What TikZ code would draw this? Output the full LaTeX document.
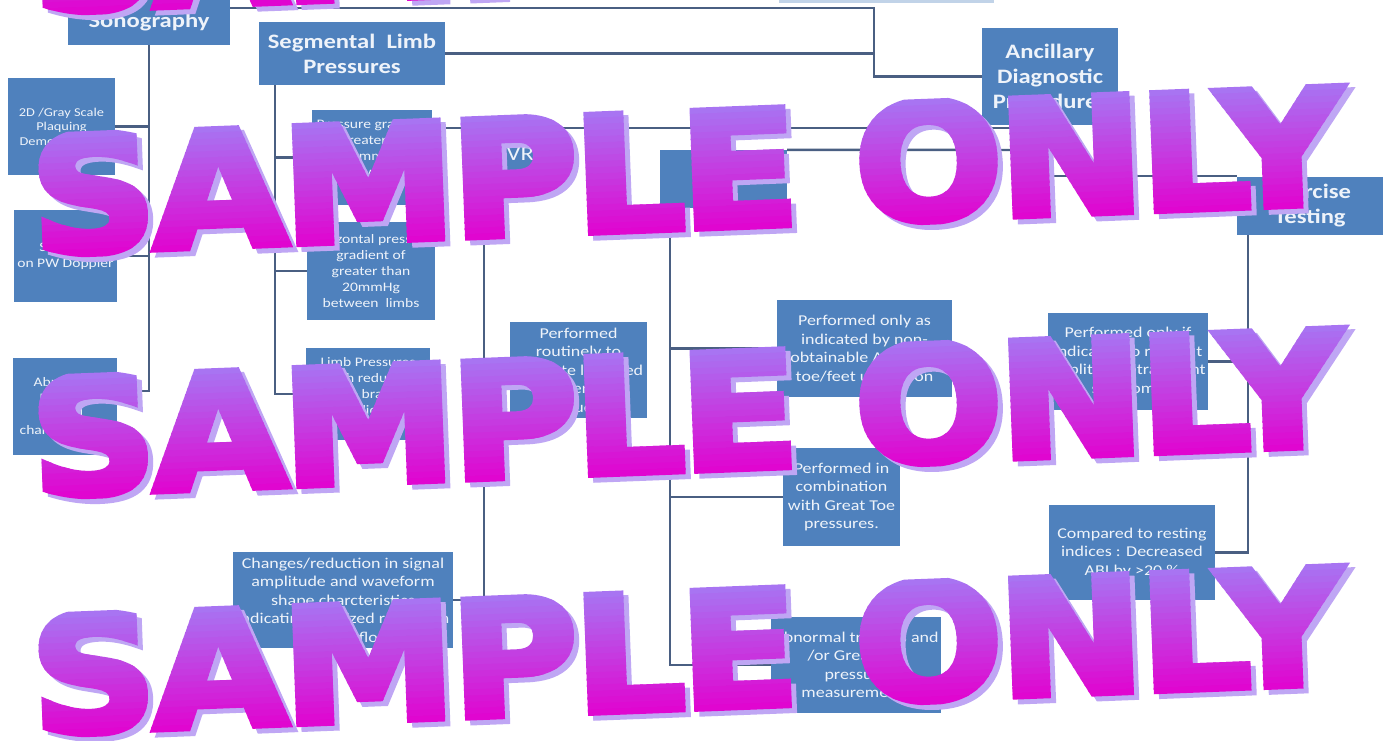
\documentclass[tikz,border=0pt]{standalone}
\usepackage{fontspec}
\usepackage{graphicx}
\setmainfont[FakeStretch=1.2]{Carlito}
\newfontfamily\wmfont[FakeBold=4, LetterSpace=-3]{DejaVu Sans Bold}

\definecolor{boxblue}{HTML}{4F81BD}
\definecolor{boxtext}{HTML}{EEF3FA}
\definecolor{linkc}{HTML}{4A5F82}
\definecolor{wmtop}{HTML}{A874F2}
\definecolor{wmbot}{HTML}{E006D0}
\definecolor{wmshade}{HTML}{BFA6F4}

\tikzset{
	box/.style={fill=boxblue, text=boxtext, inner sep=2pt, align=center},
	head/.style={box, font=\bfseries\fontsize{20.5}{25}\selectfont},
	midtext/.style={box, font=\fontsize{15}{18.5}\selectfont},
	smalltext/.style={box, font=\fontsize{13}{16}\selectfont},
	tinytext/.style={box, font=\fontsize{12}{14.5}\selectfont},
	link/.style={draw=linkc, line width=2.4pt},
	wm/.style={inner sep=0pt, transform shape},
}

\newcommand{\wmword}{\resizebox{1315pt}{120pt}{\wmfont SAMPLE ONLY}}
\newcommand{\wmrow}[1]{%
	\begin{scope}[shift={(687.5,#1)}, rotate=2.2]
		\node[wm, text=wmshade] at (5,5) {\wmword};
		\foreach \k in {0,...,19}{
			\pgfmathtruncatemacro{\p}{100-\k*100/19}
			\begin{scope}
				\clip (-720,-62+\k*6.2) rectangle (720,-60+\k*6.2+6.2);
				\node[wm, text=wmtop!\p!wmbot] at (0,0) {\wmword};
			\end{scope}
		}
	\end{scope}}

\begin{document}
\begin{tikzpicture}[x=1pt, y=-1pt]
	\useasboundingbox (0,0) rectangle (1388,740);
	\fill[white] (0,0) rectangle (1388,740);

	\draw (886,-20) node (top) [box, fill=boxblue!35, minimum width=215pt, minimum height=46pt] {};

	\draw (149,22) node (sono) [head, minimum width=162pt, minimum height=46pt] {Sonography};
	\draw (352,53.5) node (slp) [head, minimum width=186pt, minimum height=63pt] {Segmental\ \ Limb\\Pressures};
	\draw (1050,76.5) node (anc) [head, minimum width=136pt, minimum height=97pt] {Ancillary\\Diagnostic\\Procedures};
	\draw (514,154) node (pvr) [head, font=\fontsize{20.5}{25}\selectfont, minimum width=72pt, minimum height=42pt] {PVR};
	\draw (723.5,179) node (ppg) [head, minimum width=127pt, minimum height=58pt] {PPG};
	\draw (1310,206) node (ex) [head, minimum width=146pt, minimum height=58pt] {Exercise\\Testing};

	\draw (61.5,126.5) node (d2d) [tinytext, minimum width=107pt, minimum height=97pt] {2D /Gray Scale\\Plaquing\\Demonstrated};
	\draw (65.5,256) node (dsten) [smalltext, minimum width=103pt, minimum height=92pt] {Stenosis\\on PW Doppler};
	\draw (65,406) node (dabn) [smalltext, minimum width=104pt, minimum height=97pt] {Abnormal\\Doppler\\signal\\characteristics};

	\draw (372,157.5) node (pg1) [smalltext, minimum width=120pt, minimum height=95pt] {Pressure gradient\\of greater than\\20mmHg\\between\\segments};
	\draw (371,271) node (pg2) [smalltext, minimum width=122pt, minimum height=98pt] {Horizontal pressure\\gradient of\\greater than\\20mmHg\\between\ \ limbs};
	\draw (368,394) node (lp) [smalltext, minimum width=124pt, minimum height=92pt] {Limb Pressures\\with reduced\\ankle brachial\\indices\\noted};

	\draw (578.5,370) node (prt) [midtext, minimum width=137pt, minimum height=96pt] {Performed\\routinely to\\evaluate localized\\arterial\\obstruction};
	\draw (343,600) node (chg) [midtext, minimum width=220pt, minimum height=96pt] {Changes/reduction in signal\\amplitude and waveform\\shape charcteristics\\indicating localized reduction\\in blood flow};

	\draw (864.5,348.5) node (ppg1) [midtext, minimum width=175pt, minimum height=97pt] {Performed only as\\indicated by non-\\obtainable ABI or by\\toe/feet ulceration};
	\draw (841.5,497) node (ppg2) [midtext, minimum width=117pt, minimum height=98pt] {Performed in\\combination\\with Great Toe\\pressures.};
	\draw (856,665) node (ppg3) [midtext, minimum width=158pt, minimum height=96pt] {Abnormal tracings and\\/or Great Toe\\pressure\\measurements};

	\draw (1128,361.5) node (ex1) [midtext, minimum width=158pt, minimum height=97pt] {Performed only if\\indicated to rule out\\popliteal entrapment\\syndrome};
	\draw (1132,552.5) node (ex2) [midtext, minimum width=166pt, minimum height=95pt] {Compared to resting\\indices : Decreased\\ABI by >20 \%};

	\coordinate (ja) at (874,8);
	\coordinate (jb) at (1050,176);
	\coordinate (jc) at (1050,128);
	\coordinate (jd) at (1050,150);
	\draw[link] (anc.west) -| (ja) -- (ja -| sono.east);
	\draw[link] (slp.east) -- (slp.east -| ja);
	\draw[link] (anc.south) -- (jb) -- (jb -| ex.west);
	\draw[link] (jc) -- (jc -| pg1.east);
	\draw[link] (jd) -- (ppg.north east);

	\draw[link] (sono.south) |- ([yshift=15pt]dabn.east);
	\foreach \n in {d2d,dsten}
	\draw[link] (\n.east) -- (\n.east -| sono.south);

	\coordinate (sb) at ([xshift=16pt]slp.south west);
	\draw[link] (sb) |- (lp.west);
	\foreach \n in {pg1,pg2}
	\draw[link] (sb |- \n.west) -- (\n.west);

	\coordinate (sc) at ([xshift=6pt]pvr.south west);
	\draw[link] (sc) |- (chg.east);
	\draw[link] (sc |- prt.west) -- (prt.west);

	\coordinate (sd) at ([xshift=10pt]ppg.south west);
	\draw[link] (sd) |- (ppg3.west);
	\foreach \n in {ppg1,ppg2}
	\draw[link] (sd |- \n.west) -- (\n.west);

	\coordinate (se) at ([xshift=11pt]ex.south west);
	\draw[link] (se) |- (ex2.east);
	\draw[link] (se |- ex1.east) -- (ex1.east);

	\wmrow{-72}
	\wmrow{170}
	\wmrow{412}
	\wmrow{650}
\end{tikzpicture}
\end{document}
